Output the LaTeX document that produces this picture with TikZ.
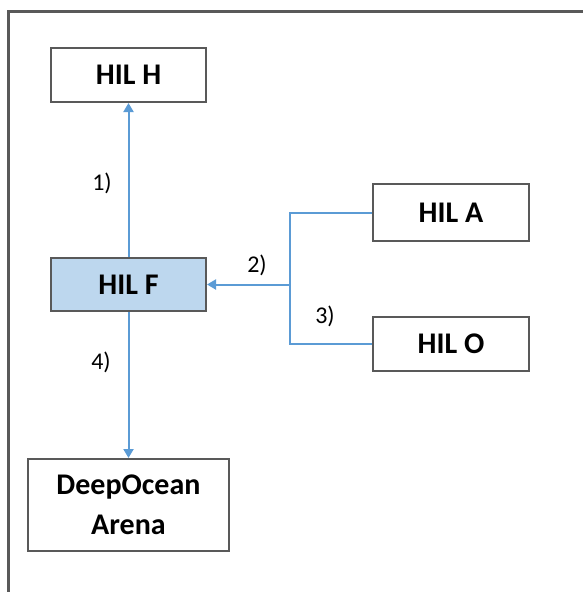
\documentclass[tikz,border=0pt]{standalone}
\usepackage{fontspec}
\setmainfont{Carlito}
\usetikzlibrary{arrows.meta}
\definecolor{boxgray}{HTML}{595959}
\definecolor{linkblue}{HTML}{5B9BD5}
\definecolor{fillblue}{HTML}{BDD7EE}
\tikzset{
  hilbox/.style={draw=boxgray, line width=2pt, fill=white, inner sep=0pt, align=center,
    font=\fontsize{30}{40}\selectfont\bfseries},
  link/.style={draw=linkblue, line width=2pt},
  linkarrow/.style={link, -{Triangle[length=9pt,width=10pt]}},
  steplabel/.style={font=\fontsize{24}{28}\selectfont, inner sep=0pt},
}
\begin{document}
\begin{tikzpicture}[x=1pt,y=-1pt]
\useasboundingbox (0,0) rectangle (582,592);
\draw[boxgray, line width=3pt] (8.5,600) -- (8.5,11.5) -- (590,11.5);

\node[hilbox, minimum width=155pt, minimum height=54pt] (H) at (128.5,75) {HIL H};
\node[hilbox, fill=fillblue, minimum width=155pt, minimum height=53pt] (F) at (128.5,284.5) {HIL F};
\node[hilbox, minimum width=156pt, minimum height=57pt] (A) at (451,212.5) {HIL A};
\node[hilbox, minimum width=156pt, minimum height=54pt] (O) at (451,344) {HIL O};
\node[hilbox, minimum width=201pt, minimum height=92pt] (D) at (128.5,505) {DeepOcean\\Arena};

\coordinate (j) at (290,284.5);

\draw[linkarrow] (F.north) -- (H.south);
\draw[linkarrow] (F.south) -- (D.north);
\draw[link] (A.west) -| (j);
\draw[link] (O.west) -| (j);
\draw[linkarrow] (j) -- (F.east);

\node[steplabel] (l1) at (102,183) {1)};
\node[steplabel] (l2) at (257,265) {2)};
\node[steplabel] (l3) at (325,316) {3)};
\node[steplabel] (l4) at (101,362) {4)};
\end{tikzpicture}
\end{document}
